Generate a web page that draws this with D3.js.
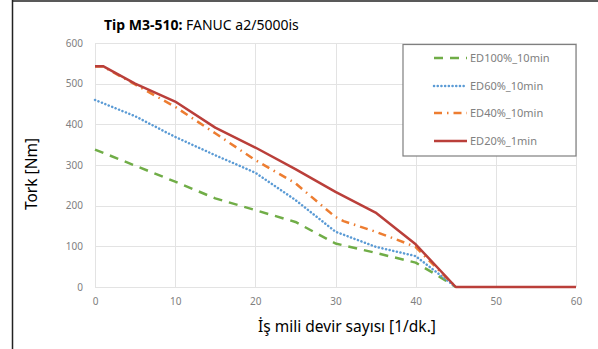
<!DOCTYPE html>
<html>
<head>
<meta charset="utf-8">
<script src="https://cdn.jsdelivr.net/npm/d3@7"></script>
<style>
  body { margin: 0; background: #fff; }
  svg { display: block; }
</style>
</head>
<body>
<svg id="chart" width="598" height="349"></svg>
<script>
// Torque curves of the FANUC a2/5000is spindle motor for each duty cycle
const seriesNames = ["ED100%_10min", "ED60%_10min", "ED40%_10min", "ED20%_1min"];
const ed100Speed = [0, 10, 15, 20, 25, 30, 35, 40, 43, 45];
const ed100Torque = [338, 259, 218, 189, 160, 107, 84, 60, 25, 0];
const ed60Speed = [0, 5, 10, 15, 20, 25, 30, 35, 40, 45];
const ed60Torque = [460, 420, 369, 324, 281, 214, 136, 99, 76, 0];
const ed40Speed = [0, 1, 5, 10, 15, 20, 25, 30, 31, 35, 38.5, 40, 45];
const ed40Torque = [542, 542, 498, 443, 378, 312, 255, 172, 162, 136, 110, 98, 0];
const ed20Speed = [0, 1, 5, 10, 15, 20, 25, 30, 35, 40, 45, 60];
const ed20Torque = [543, 543, 500, 456, 392, 343, 290, 234, 183, 105, 0, 0];
const xTicks = [0, 10, 20, 30, 40, 50, 60];
const yTicks = [0, 100, 200, 300, 400, 500, 600];

const series = [
  { name: seriesNames[0], x: ed100Speed, y: ed100Torque, color: "#70AD47", dash: "9,7", cap: "butt" },
  { name: seriesNames[1], x: ed60Speed, y: ed60Torque, color: "#5B9BD5", dash: "0.1,3.6", cap: "round" },
  { name: seriesNames[2], x: ed40Speed, y: ed40Torque, color: "#ED7D31", dash: "8,5,1.5,5", cap: "butt" },
  { name: seriesNames[3], x: ed20Speed, y: ed20Torque, color: "#BA3F3A", dash: null, cap: "butt" }
];

const svg = d3.select("#chart");
const font = "'Noto Sans', 'Open Sans', sans-serif";
const plot = { left: 95, right: 576, top: 43, bottom: 287 };

const x = d3.scaleLinear().domain([0, 60]).range([plot.left, plot.right]);
const y = d3.scaleLinear().domain([0, 600]).range([plot.bottom, plot.top]);

// frame edges
svg.append("line").attr("x1", 12.5).attr("x2", 12.5).attr("y1", 0).attr("y2", 349)
  .attr("stroke", "#222").attr("stroke-width", 1.5);
svg.append("line").attr("x1", 12).attr("x2", 598).attr("y1", 1).attr("y2", 1)
  .attr("stroke", "#222").attr("stroke-width", 1.5);

// gridlines
const grid = svg.append("g");
grid.selectAll("line.h").data(yTicks).join("line")
  .attr("x1", plot.left).attr("x2", plot.right)
  .attr("y1", d => Math.round(y(d)) + 0.5).attr("y2", d => Math.round(y(d)) + 0.5)
  .attr("stroke", "#e3e3e3").attr("stroke-width", 1);
grid.selectAll("line.v").data(xTicks).join("line")
  .attr("y1", plot.top).attr("y2", plot.bottom)
  .attr("x1", d => Math.round(x(d)) + 0.5).attr("x2", d => Math.round(x(d)) + 0.5)
  .attr("stroke", "#e3e3e3").attr("stroke-width", 1);

// axes (tick labels only)
const xAxis = svg.append("g").attr("transform", `translate(0,${plot.bottom})`)
  .call(d3.axisBottom(x).tickValues(xTicks).tickSize(0).tickPadding(11));
const yAxis = svg.append("g").attr("transform", `translate(${plot.left},0)`)
  .call(d3.axisLeft(y).tickValues(yTicks).tickSize(0).tickPadding(12));
[xAxis, yAxis].forEach(a => {
  a.select(".domain").remove();
  a.selectAll("text").attr("fill", "#808080").style("font-family", font).style("font-size", "10px");
});

// curves
const line = d3.line().x(d => x(d[0])).y(d => y(d[1]));
svg.append("defs").append("clipPath").attr("id", "plotClip")
  .append("rect").attr("x", plot.left - 2).attr("y", plot.top - 5)
  .attr("width", plot.right - plot.left + 4).attr("height", plot.bottom - plot.top + 8);
svg.append("g").attr("clip-path", "url(#plotClip)")
  .selectAll("path").data(series).join("path")
  .attr("d", s => line(s.x.map((v, i) => [v, s.y[i]])))
  .attr("fill", "none")
  .attr("stroke", s => s.color)
  .attr("stroke-width", 2.5)
  .attr("stroke-dasharray", s => s.dash)
  .attr("stroke-linecap", s => s.cap)
  .attr("stroke-linejoin", "round");

// title
const title = svg.append("text").attr("x", 104).attr("y", 29.5)
  .style("font-family", font).style("font-size", "14px").attr("fill", "#000");
title.append("tspan").attr("font-weight", "bold").text("Tip M3-510:");
title.append("tspan").text(" FANUC a2/5000is");

// axis titles
svg.append("text").attr("x", 347).attr("y", 332).attr("text-anchor", "middle")
  .style("font-family", font).style("font-size", "15.5px").attr("fill", "#000")
  .text("İş mili devir sayısı [1/dk.]");
svg.append("text").attr("transform", "translate(37,174) rotate(-90)").attr("text-anchor", "middle")
  .style("font-family", font).style("font-size", "15.5px").attr("fill", "#000")
  .text("Tork [Nm]");

// legend
const legend = svg.append("g");
legend.append("rect").attr("x", 403).attr("y", 44.5).attr("width", 173).attr("height", 111.5)
  .attr("fill", "#fff").attr("stroke", "#7f7f7f").attr("stroke-width", 1.2);
const rowY = [58, 86, 113, 141];
series.forEach((s, i) => {
  legend.append("line").attr("x1", 434).attr("x2", 467).attr("y1", rowY[i]).attr("y2", rowY[i])
    .attr("stroke", s.color).attr("stroke-width", 2.5)
    .attr("stroke-dasharray", s.dash).attr("stroke-linecap", s.cap);
  legend.append("text").attr("x", 470).attr("y", rowY[i] + 4)
    .style("font-family", font).style("font-size", "11px").attr("fill", "#808080")
    .text(s.name);
});
</script>
</body>
</html>
